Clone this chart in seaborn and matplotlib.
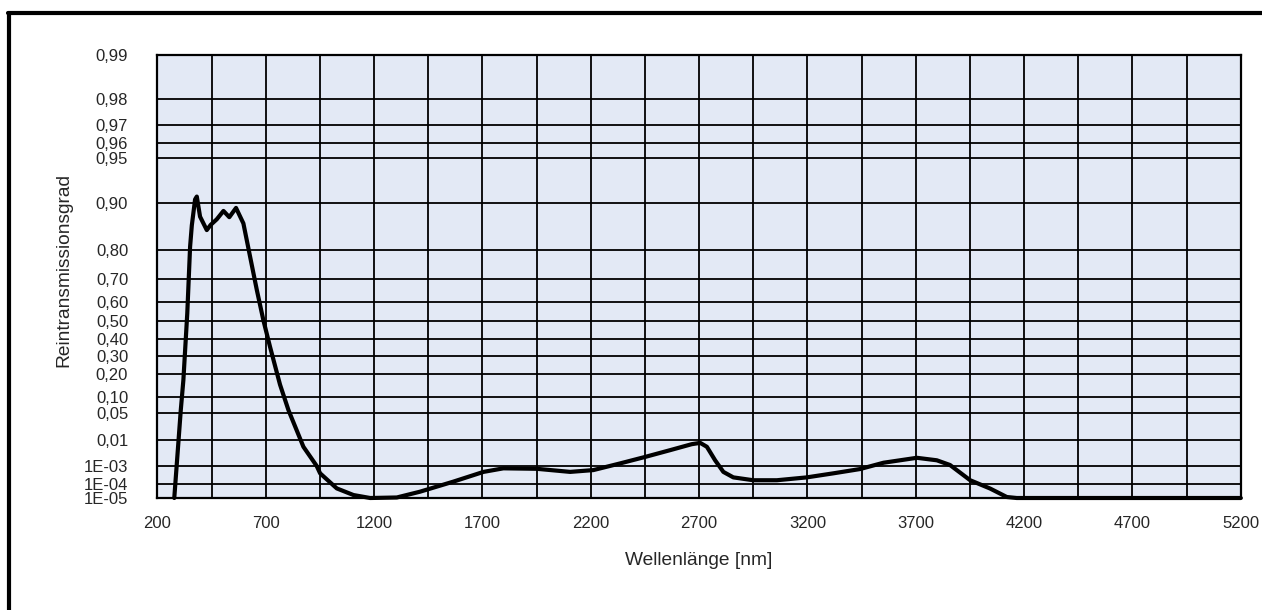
import numpy as np
import matplotlib
matplotlib.use("Agg")
import matplotlib.pyplot as plt
from matplotlib.lines import Line2D
import seaborn as sns

# wavelength [nm] and pure transmittance
wavelength = [278, 308, 320, 338, 351, 359, 366, 374, 382, 397, 428, 446, 474,
              505, 532, 563, 597, 628, 659, 689, 720, 766, 805, 874, 935, 951,
              1028, 1105, 1182, 1305, 1412, 1566, 1705, 1797, 1951, 2105, 2212,
              2335, 2451, 2566, 2666, 2705, 2736, 2774, 2812, 2858, 2950, 3059,
              3197, 3320, 3443, 3551, 3705, 3797, 3858, 3951, 4043, 4120, 4166,
              5200]
transmission = [1e-5, 0.058, 0.171, 0.543, 0.809, 0.86, 0.883, 0.905, 0.909,
                0.877, 0.850, 0.861, 0.872, 0.887, 0.876, 0.892, 0.864, 0.780,
                0.656, 0.507, 0.353, 0.15, 0.058, 0.0061, 1e-3, 4.2e-4, 5.1e-5,
                1.7e-5, 1e-5, 1.1e-5, 3e-5, 1.4e-4, 5e-4, 7.6e-4, 7.2e-4, 5e-4,
                6.2e-4, 1.3e-3, 2.5e-3, 4.6e-3, 7.5e-3, 8.3e-3, 6.1e-3, 1.8e-3,
                5e-4, 2.5e-4, 1.7e-4, 1.7e-4, 2.5e-4, 4.2e-4, 7e-4, 1.4e-3,
                2.3e-3, 1.8e-3, 1.1e-3, 1.7e-4, 5e-5, 1.2e-5, 1e-5, 1e-5]

y_ticks = [0.99, 0.98, 0.97, 0.96, 0.95, 0.90, 0.80, 0.70, 0.60, 0.50, 0.40,
           0.30, 0.20, 0.10, 0.05, 0.01, 1e-3, 1e-4, 1e-5]
y_labels = ["0,99", "0,98", "0,97", "0,96", "0,95", "0,90", "0,80", "0,70",
            "0,60", "0,50", "0,40", "0,30", "0,20", "0,10", "0,05", "0,01",
            "1E-03", "1E-04", "1E-05"]
x_ticks = list(range(200, 5201, 500))
x_grid = list(range(200, 5201, 250))


# diabatic scale: -log10(log10(1/T))
def fwd(t):
    t = np.clip(np.asarray(t, dtype=float), 1e-300, 1 - 1e-15)
    return -np.log10(np.log10(1.0 / t))


def inv(y):
    return 10.0 ** (-(10.0 ** (-np.asarray(y, dtype=float))))


sns.set_style("white")
plt.rcParams['font.family'] = ['Liberation Sans', 'DejaVu Sans']

fig = plt.figure(figsize=(12.62, 6.10), dpi=100)
ax = fig.add_axes([0.1247, 0.1836, 0.8585, 0.7262])
ax.set_facecolor("#E3E9F5")
ax.set_yscale("function", functions=(fwd, inv))

sns.lineplot(x=wavelength, y=transmission, ax=ax, color="black", lw=3,
             clip_on=False, zorder=5, solid_joinstyle="round",
             solid_capstyle="round")

ax.set_xlim(200, 5200)
ax.set_ylim(1e-5, 0.99)
ax.set_xticks(x_ticks)
ax.set_xticklabels([str(v) for v in x_ticks], fontsize=12)
ax.set_xticks(x_grid, minor=True)
ax.set_yticks(y_ticks)
ax.set_yticklabels(y_labels, fontsize=12)
ax.yaxis.set_minor_locator(matplotlib.ticker.NullLocator())
ax.tick_params(which="both", length=0)
ax.tick_params(axis="y", pad=21)
ax.tick_params(axis="x", pad=13)
ax.grid(True, which="both", color="black", lw=1.3)
ax.set_axisbelow(True)
for s in ax.spines.values():
    s.set_color("black")
    s.set_linewidth(1.6)

ax.set_xlabel("Wellenlänge [nm]", fontsize=13.8, labelpad=15)
ax.set_ylabel("Reintransmissionsgrad", fontsize=13.8)
ax.yaxis.set_label_coords(-0.078, 0.515)

# outer frame (left and top edges visible)
fig.add_artist(Line2D([0.0075, 0.0075], [0.0, 0.9795], transform=fig.transFigure,
                      color="black", lw=3))
fig.add_artist(Line2D([0.0063, 1.0], [0.9795, 0.9795], transform=fig.transFigure,
                      color="black", lw=3))

fig.savefig("out.png", dpi=100)
